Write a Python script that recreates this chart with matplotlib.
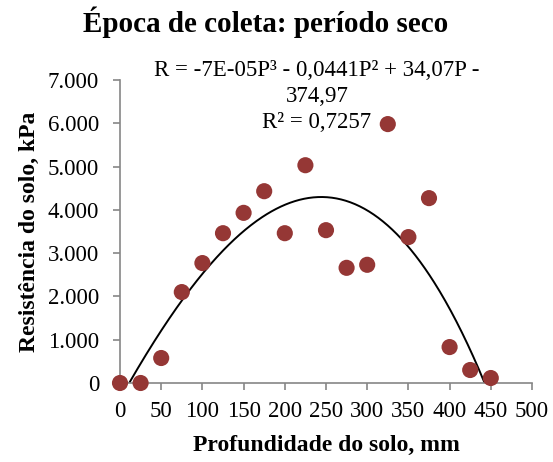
import numpy as np
import matplotlib
matplotlib.use("Agg")
import matplotlib.pyplot as plt
from matplotlib.ticker import FuncFormatter, MultipleLocator

plt.rcParams['font.family'] = ['Liberation Serif', 'DejaVu Serif']

# Soil depth (mm) and penetration resistance (kPa), dry season
profundidade = [0, 25, 50, 75, 100, 125, 150, 175, 200, 225,
                250, 275, 300, 325, 350, 375, 400, 425, 450]
resistencia = [0, 0, 577, 2100, 2770, 3460, 3930, 4430, 3460, 5030,
               3530, 2660, 2730, 5980, 3370, 4270, 830, 300, 115]

# Cubic trend-line coefficients (highest power first)
coef = [-7e-05, -0.0441, 34.07, -374.97]
r2 = 0.7257

fig = plt.figure(figsize=(5.53, 4.62), dpi=100)
ax = fig.add_axes([0.217, 0.171, 0.745, 0.656])

p = np.linspace(0, 450, 400)
ax.plot(p, np.polyval(coef, p), color='black', lw=1.4, zorder=2)
ax.scatter(profundidade, resistencia, s=135, color='#953735',
           edgecolors='none', zorder=3, clip_on=False)

ax.set_xlim(0, 500)
ax.set_ylim(0, 7000)
ax.xaxis.set_major_locator(MultipleLocator(50))
ax.yaxis.set_major_locator(MultipleLocator(1000))
ax.yaxis.set_major_formatter(FuncFormatter(
    lambda v, _: f"{int(v):,}".replace(",", ".")))

for side in ('top', 'right'):
    ax.spines[side].set_visible(False)
for side in ('left', 'bottom'):
    ax.spines[side].set_color('#868686')
    ax.spines[side].set_linewidth(1.2)
ax.tick_params(direction='out', length=5, width=1.2, color='#868686',
               labelsize=16.5, labelcolor='black')
ax.tick_params(axis='x', pad=8)
ax.tick_params(axis='y', pad=10)

ax.set_xlabel('Profundidade do solo, mm', fontsize=17, fontweight='bold',
              labelpad=9)
ax.set_ylabel('Resistência do solo, kPa', fontsize=17, fontweight='bold',
              labelpad=6)
fig.suptitle('Época de coleta: período seco', fontsize=21, fontweight='bold',
             x=0.48, y=0.985)

eq = ("R = -7E-05P³ - 0,0441P² + 34,07P -\n374,97\n"
      f"R² = {str(r2).replace('.', ',')}")
ax.text(239, 6620, eq, ha='center', va='center', fontsize=16.5,
        linespacing=1.3)

fig.savefig('out.png', dpi=100)
